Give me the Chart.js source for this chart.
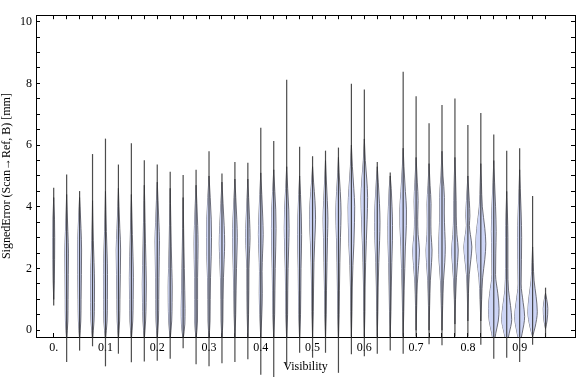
<!DOCTYPE html>
<html>
<head>
<meta charset="utf-8">
<script src="https://cdn.jsdelivr.net/npm/chart.js@4/dist/chart.umd.min.js"></script>
<style>
html,body{margin:0;padding:0;background:#fff;}
canvas{display:block;}
</style>
</head>
<body>
<canvas id="c" width="576" height="377"></canvas>
<script>
// ---- data ----
const positions = [0,0.025,0.05,0.075,0.1,0.125,0.15,0.175,0.2,0.225,0.25,0.275,0.3,0.325,0.35,0.375,0.4,0.425,0.45,0.475,0.5,0.525,0.55,0.575,0.6,0.625,0.65,0.675,0.7,0.725,0.75,0.775,0.8,0.825,0.85,0.875,0.9,0.925,0.95];
const maxVals = [4.62,5.05,4.51,5.71,6.21,5.37,6.06,5.51,5.37,5.14,5.03,5.2,5.8,5.08,5.45,5.43,6.56,6.13,8.12,5.95,5.64,5.82,5.92,7.99,7.8,5.45,5.11,8.38,7.58,6.71,7.3,7.51,6.65,7.04,6.34,5.82,5.9,4.35,1.38];
const minVals = [0.8,-1.03,-0.66,-0.52,-1.17,-0.76,-1.04,-1.01,-0.99,-0.92,-0.58,-1.1,-1.17,-1.07,-1.03,-0.94,-1.44,-1.52,-1.15,-0.73,-0.89,-0.73,-1.38,-0.78,-0.84,-0.76,-0.66,-0.76,-0.2,-0.45,-0.49,-0.2,-0.2,-0.47,-0.92,-0.89,-1.03,-0.47,-0.21];
// density profiles: [value, relative half-width]
const profiles = [
 [[1.0,0],[1.6,0.6],[2.3,0.9],[3.0,1.0],[3.6,0.8],[4.3,0]],
 [[-0.3,0],[0.3,1.2],[1.0,1.4],[1.8,1.6],[2.5,1.8],[3.2,1.2],[3.9,0.5],[4.4,0]],
 [[-0.3,0],[0.3,1.2],[1.0,1.5],[1.8,1.8],[2.6,2.0],[3.3,1.4],[4.0,0.5],[4.3,0]],
 [[-0.3,0],[0.3,1.5],[0.9,1.9],[1.5,2.0],[2.2,1.5],[2.9,0.8],[3.6,0.3],[4.2,0]],
 [[-0.3,0],[0.3,1.6],[1.0,1.9],[1.8,2.0],[2.5,1.6],[3.2,0.9],[3.9,0.4],[4.5,0]],
 [[-0.3,0],[0.3,1.2],[1.0,1.5],[1.8,1.9],[2.6,2.2],[3.3,1.4],[4.0,0.6],[4.6,0]],
 [[-0.3,0],[0.3,1.4],[1.0,1.8],[1.7,2.0],[2.4,1.6],[3.1,1.0],[3.8,0.5],[4.4,0]],
 [[-0.3,0],[0.3,1.3],[0.9,1.8],[1.5,2.0],[2.1,1.7],[2.8,1.2],[3.5,0.8],[4.2,0.4],[4.7,0]],
 [[-0.3,0],[0.3,1.2],[1.0,1.5],[1.7,1.7],[2.4,2.0],[2.9,2.2],[3.5,1.6],[4.2,0.8],[4.8,0]],
 [[-0.3,0],[0.3,1.5],[0.9,1.9],[1.4,2.0],[2.0,1.6],[2.7,1.1],[3.4,0.7],[4.1,0.3],[4.6,0]],
 [[-0.3,0],[0.2,1.7],[0.7,1.9],[1.3,1.6],[2.0,1.2],[2.7,0.8],[3.3,0.5],[3.9,0.2],[4.3,0]],
 [[-0.3,0],[0.3,1.4],[1.0,1.5],[1.7,1.5],[2.3,1.8],[2.8,2.0],[3.4,1.6],[4.1,0.8],[4.7,0]],
 [[-0.3,0],[0.3,1.0],[1.0,1.2],[1.7,1.5],[2.4,2.2],[3.0,2.5],[3.6,2.2],[4.3,1.2],[5.0,0]],
 [[-0.3,0],[0.3,0.9],[1.0,1.1],[1.7,1.5],[2.3,2.2],[2.8,2.7],[3.4,2.2],[4.1,1.1],[4.8,0]],
 [[-0.3,0],[0.5,0.8],[1.3,1.2],[2.0,1.6],[2.6,2.1],[3.0,2.4],[3.6,1.9],[4.3,0.9],[4.9,0]],
 [[-0.3,0],[0.5,0.7],[1.3,1.0],[2.0,1.1],[2.5,1.6],[3.0,2.2],[3.6,1.7],[4.3,0.8],[4.9,0]],
 [[-0.3,0],[0.5,1.0],[1.2,1.5],[1.9,1.3],[2.5,1.8],[3.1,2.4],[3.7,1.9],[4.4,1.0],[5.1,0]],
 [[-0.3,0],[0.5,0.9],[1.3,1.2],[2.0,1.5],[2.7,2.0],[3.3,2.3],[3.9,2.0],[4.5,1.1],[5.2,0]],
 [[-0.3,0],[0.5,0.9],[1.3,1.1],[2.0,1.4],[2.7,2.0],[3.3,2.4],[3.9,2.1],[4.6,1.0],[5.3,0]],
 [[-0.3,0],[0.5,0.9],[1.3,1.2],[2.0,1.4],[2.6,1.8],[3.1,2.0],[3.7,1.7],[4.4,0.9],[5.0,0]],
 [[-0.2,0],[0.6,0.7],[1.4,1.0],[2.2,1.4],[2.9,2.2],[3.6,3.0],[4.2,2.4],[4.8,1.0],[5.3,0]],
 [[-0.2,0],[0.5,0.7],[1.3,1.0],[2.2,1.5],[3.0,2.0],[3.6,2.4],[4.2,1.8],[4.9,0.8],[5.5,0]],
 [[-0.3,0],[0.5,0.7],[1.3,1.0],[2.2,1.4],[3.0,2.0],[3.8,2.6],[4.5,1.8],[5.1,0.7],[5.6,0]],
 [[-0.2,0],[0.6,0.6],[1.4,0.9],[2.1,1.5],[2.8,2.5],[3.5,3.1],[4.0,3.3],[4.6,2.4],[5.3,1.0],[6.0,0]],
 [[-0.2,0],[0.6,0.6],[1.4,0.8],[2.2,1.3],[2.9,2.0],[3.6,2.8],[4.3,3.3],[4.9,2.4],[5.5,1.0],[6.2,0]],
 [[-0.2,0],[0.6,0.6],[1.4,0.9],[2.2,1.5],[2.9,2.3],[3.5,2.7],[4.1,2.2],[4.8,1.0],[5.3,0]],
 [[-0.2,0],[0.6,0.7],[1.4,1.1],[2.2,1.6],[2.9,2.2],[3.4,2.3],[4.0,1.8],[4.6,1.0],[5.0,0]],
 [[-0.2,0],[0.6,0.6],[1.3,1.0],[2.0,1.6],[2.7,2.2],[3.4,3.2],[3.9,3.3],[4.5,2.2],[5.3,0.8],[5.9,0]],
 [[0.0,0],[0.8,0.6],[1.5,1.2],[2.1,2.5],[2.6,3.4],[3.1,2.0],[3.6,1.6],[4.2,2.0],[4.8,1.2],[5.6,0]],
 [[0.0,0],[0.8,0.6],[1.6,1.3],[2.2,2.5],[2.6,3.0],[3.1,2.0],[3.6,1.8],[4.1,2.0],[4.7,1.0],[5.4,0]],
 [[0.0,0],[0.8,0.7],[1.6,1.5],[2.2,2.8],[2.7,3.3],[3.2,2.8],[3.8,2.3],[4.3,2.4],[5.0,1.0],[5.8,0]],
 [[0.2,0],[1.0,0.6],[1.7,1.5],[2.2,2.6],[2.6,3.3],[3.1,2.0],[3.7,1.3],[4.2,1.2],[5.0,0.6],[5.6,0]],
 [[0.3,0],[1.2,0.6],[1.8,1.4],[2.3,3.0],[2.7,4.0],[3.1,2.5],[3.4,1.5],[3.7,2.0],[4.2,1.4],[5.0,0]],
 [[0.3,0],[1.0,0.8],[1.7,1.8],[2.3,4.0],[2.8,5.0],[3.3,4.0],[4.0,1.5],[4.8,0.6],[5.4,0]],
 [[-0.5,0],[-0.1,2.0],[0.3,4.5],[0.7,5.3],[1.2,4.0],[1.8,1.8],[2.5,2.0],[3.2,2.4],[4.0,1.8],[4.8,0.8],[5.5,0]],
 [[-0.5,0],[-0.1,2.5],[0.35,5.0],[0.8,3.8],[1.3,1.8],[2.0,1.2],[3.0,1.2],[3.8,0.7],[4.5,0]],
 [[-0.5,0],[-0.1,2.5],[0.45,5.0],[0.9,3.5],[1.5,1.5],[2.3,1.8],[3.0,2.0],[3.8,1.5],[4.6,0.6],[5.2,0]],
 [[-0.2,0],[0.1,2.5],[0.6,4.7],[1.1,3.5],[1.6,1.5],[2.2,0.6],[2.7,0]],
 [[0.05,0],[0.3,1.5],[0.7,2.3],[1.0,1.2],[1.2,0]]
];
const xLabelValues = [0,0.1,0.2,0.3,0.4,0.5,0.6,0.7,0.8,0.9];
const xLabels = ['0.','0.1','0.2','0.3','0.4','0.5','0.6','0.7','0.8','0.9'];
const yTickValues = [0,0.5,1,1.5,2,2.5,3,3.5,4,4.5,5,5.5,6,6.5,7,7.5,8,8.5,9,9.5,10];
const yLabelValues = [0,2,4,6,8,10];
const xTitle = 'Visibility';
const yTitle = 'SignedError (Scan\u2192Ref, B) [mm]';

// ---- styling ----
const WIDTH_SCALE = 0.00193;
const X_MIN = -0.0342, X_MAX = 1.0069;
const Y_MIN = -0.219, Y_MAX = 10.21;
const FONT = {family: "'Liberation Serif', 'Times New Roman', serif", size: 12};
const FILL = 'rgb(205,213,246)';
const OUTLINE = 'rgba(80,80,90,0.9)';
const WHISKER = 'rgba(45,45,45,0.85)';

const datasets = [];
positions.forEach((p, i) => {
  datasets.push({
    data: [{x: p, y: minVals[i]}, {x: p, y: maxVals[i]}],
    borderColor: WHISKER, borderWidth: 1.2, pointRadius: 0, fill: false,
    clip: false, order: 0, xAxisID: 'x', yAxisID: 'y'
  });
});
positions.forEach((p, i) => {
  const prof = profiles[i];
  const common = {
    borderColor: OUTLINE, borderWidth: 0.9, pointRadius: 0,
    cubicInterpolationMode: 'monotone', order: 1, xAxisID: 'x', yAxisID: 'y',
    backgroundColor: FILL
  };
  datasets.push(Object.assign({}, common, {
    data: prof.map(([y, w]) => ({x: p + w * WIDTH_SCALE, y})), fill: '+1'
  }));
  datasets.push(Object.assign({}, common, {
    data: prof.map(([y, w]) => ({x: p - w * WIDTH_SCALE, y})), fill: false
  }));
});

const labelFor = (v) => {
  const k = xLabelValues.findIndex(t => Math.abs(t - v) < 1e-6);
  return k >= 0 ? xLabels[k] : '';
};

const gridInward = {display: true, drawOnChartArea: false, drawTicks: true, tickLength: -4, color: '#000', lineWidth: 1};

new Chart(document.getElementById('c'), {
  type: 'line',
  data: {datasets},
  options: {
    indexAxis: 'y',
    responsive: false,
    animation: false,
    devicePixelRatio: 1,
    layout: {padding: {top: 4, right: 1, left: 0, bottom: 0}},
    plugins: {legend: {display: false}, tooltip: {enabled: false}, title: {display: false}},
    scales: {
      x: {
        type: 'linear', position: 'bottom', axis: 'x', min: X_MIN, max: X_MAX,
        afterBuildTicks: s => { s.ticks = positions.map(v => ({value: v})); },
        afterFit: s => { s.height = 40; },
        ticks: {callback: v => labelFor(v), autoSkip: false, maxRotation: 0, padding: 8, font: FONT, color: '#000'},
        grid: gridInward,
        border: {display: true, color: '#000', width: 1},
        title: {display: true, text: xTitle, font: FONT, color: '#000', padding: {top: 0, bottom: 2.5}}
      },
      xTop: {
        type: 'linear', position: 'top', axis: 'x', min: X_MIN, max: X_MAX,
        afterBuildTicks: s => { s.ticks = positions.map(v => ({value: v})); },
        afterFit: s => { s.height = 0; },
        ticks: {display: false},
        grid: gridInward,
        border: {display: true, color: '#000', width: 1}
      },
      y: {
        type: 'linear', position: 'left', axis: 'y', min: Y_MIN, max: Y_MAX,
        afterBuildTicks: s => { s.ticks = yTickValues.map(v => ({value: v})); },
        afterFit: s => { s.width = 36; },
        ticks: {callback: v => (yLabelValues.includes(v) ? String(v) : ''), autoSkip: false, padding: 8, font: FONT, color: '#000'},
        grid: gridInward,
        border: {display: true, color: '#000', width: 1},
        title: {display: true, text: yTitle, font: FONT, color: '#000', padding: {top: 0, bottom: 0}}
      },
      yRight: {
        type: 'linear', position: 'right', axis: 'y', min: Y_MIN, max: Y_MAX,
        afterBuildTicks: s => { s.ticks = yTickValues.map(v => ({value: v})); },
        afterFit: s => { s.width = 0; },
        ticks: {display: false},
        grid: gridInward,
        border: {display: true, color: '#000', width: 1}
      }
    }
  }
});
</script>
</body>
</html>
